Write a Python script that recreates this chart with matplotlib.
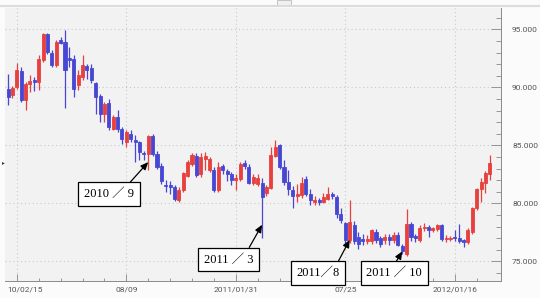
import matplotlib
matplotlib.use('Agg')
import matplotlib.pyplot as plt
import matplotlib.transforms as mtransforms
from matplotlib.ticker import FixedLocator
import numpy as np
import pandas as pd

# ---- data (weekly USD/JPY candles) ----
start_week = '2010-02-01'
opens = [89.9, 89.3, 90.03, 91.38, 88.88, 90.32, 90.6, 90.46, 92.33, 94.63,
         93.0, 91.9, 94.05, 93.9, 92.56, 92.47, 90.17, 90.89, 91.8, 91.7,
         90.37, 89.25, 87.73, 88.68, 86.44, 87.44, 86.44, 85.29, 86.0, 85.5,
         85.29, 84.37, 84.28, 85.8, 84.28, 83.2, 81.6, 81.55, 81.4, 80.26,
         81.12, 82.4, 83.4, 84.05, 82.56, 83.85, 82.84, 82.9, 81.12, 83.2,
         82.8, 82.56, 81.98, 82.13, 83.47, 83.13, 81.75, 81.7, 81.75, 80.9,
         81.35, 84.05, 85.0, 83.13, 81.84, 81.12, 80.6, 80.69, 82.13, 80.83,
         80.12, 80.3, 80.12, 80.4, 80.83, 80.55, 79.12, 78.28, 76.84, 78.1,
         77.1, 76.95, 76.75, 76.72, 77.53, 77.0, 76.81, 77.1, 76.81, 77.24,
         76.35, 75.65, 78.19, 77.2, 76.84, 77.84, 77.99, 77.7, 77.8, 78.1,
         76.93, 76.93, 77.13, 77.0, 76.84, 76.64, 77.56, 79.57, 81.23, 81.73,
         82.5]
highs = [91.18, 90.1, 92.1, 91.75, 90.46, 91.03, 90.9, 92.76, 94.68, 94.7,
         93.2, 94.05, 94.34, 94.91, 93.47, 92.76, 91.47, 92.76, 92.04, 92.0,
         90.45, 89.46, 88.73, 89.03, 87.59, 88.02, 86.58, 86.29, 86.29, 85.86,
         85.4, 84.5, 85.92, 85.95, 84.5, 83.5, 81.98, 81.9, 81.6, 81.4,
         82.7, 83.7, 84.3, 84.34, 84.34, 84.42, 84.0, 83.1, 83.56, 83.4,
         83.0, 82.7, 82.56, 83.56, 83.7, 83.4, 82.56, 82.5, 82.2, 81.6,
         84.83, 85.5, 85.15, 83.7, 82.84, 81.46, 81.7, 82.24, 82.4, 81.2,
         80.6, 80.5, 80.9, 81.4, 81.0, 80.7, 79.57, 78.4, 80.26, 78.5,
         77.53, 77.4, 77.3, 77.82, 77.8, 77.2, 77.4, 77.4, 77.5, 77.5,
         76.5, 79.55, 78.4, 77.4, 78.1, 78.3, 78.1, 78.0, 78.2, 78.2,
         77.3, 77.2, 77.7, 78.19, 76.9, 77.9, 79.7, 81.3, 82.16, 82.8,
         84.16]
lows = [88.45, 89.1, 89.9, 88.73, 88.02, 89.6, 89.7, 89.74, 92.18, 92.9,
        91.75, 91.75, 93.77, 88.19, 91.75, 89.16, 89.74, 90.6, 90.75, 90.4,
        87.73, 87.0, 87.0, 86.29, 86.29, 86.15, 85.15, 84.85, 85.29, 83.56,
        83.7, 83.7, 82.84, 84.1, 83.0, 81.7, 80.97, 80.8, 80.2, 80.1,
        80.97, 82.3, 83.2, 82.3, 82.3, 82.84, 82.7, 80.97, 80.97, 82.56,
        81.9, 81.6, 81.12, 81.9, 83.0, 81.7, 81.6, 81.5, 77.0, 80.6,
        81.2, 83.97, 83.0, 81.55, 80.7, 79.57, 80.1, 80.5, 80.6, 79.83,
        79.9, 79.9, 80.0, 80.3, 80.4, 78.7, 78.28, 76.55, 76.6, 76.53,
        76.1, 76.4, 76.5, 76.5, 76.6, 76.2, 76.5, 76.4, 76.6, 76.3,
        75.6, 75.5, 76.8, 76.7, 76.7, 77.6, 77.13, 77.5, 77.6, 76.8,
        76.7, 76.8, 76.8, 76.6, 76.2, 76.5, 77.4, 79.43, 80.15, 80.86,
        82.0]
closes = [89.2, 89.97, 91.47, 88.88, 90.32, 90.52, 90.45, 92.47, 94.63, 93.04,
          91.9, 93.9, 93.82, 91.47, 92.39, 89.89, 91.03, 91.9, 91.47, 90.6,
          89.16, 87.73, 88.6, 86.58, 87.44, 86.44, 85.58, 86.15, 85.58, 85.29,
          84.43, 84.25, 85.8, 84.28, 83.13, 81.9, 81.47, 81.4, 80.4, 81.12,
          82.6, 83.56, 84.14, 82.47, 83.99, 84.05, 83.85, 81.12, 83.13, 82.84,
          82.5, 82.04, 82.18, 83.42, 83.2, 81.75, 82.27, 82.2, 80.55, 81.4,
          84.14, 84.86, 83.13, 81.84, 81.27, 80.6, 80.83, 81.75, 80.78, 80.26,
          80.3, 80.12, 80.55, 80.83, 80.63, 79.12, 78.55, 76.84, 78.4, 76.8,
          76.53, 76.8, 76.95, 77.67, 76.81, 76.53, 77.1, 76.81, 77.24, 76.4,
          75.9, 78.2, 77.13, 76.98, 77.84, 77.99, 77.7, 77.84, 78.1, 76.93,
          77.05, 77.0, 76.98, 76.8, 76.64, 77.7, 79.57, 81.23, 81.87, 82.6,
          83.45]

tick_dates = ['2010-02-15', '2010-08-09', '2011-01-31', '2011-07-25', '2012-01-16']
tick_labels = ['10/02/15', '08/09', '2011/01/31', '07/25', '2012/01/16']
y_ticks = [75, 80, 85, 90, 95]
y_tick_labels = ['75.000', '80.000', '85.000', '90.000', '95.000']

annot_texts = ['2010 ／ 9', '2011 ／ 3', '2011／8', '2011 ／ 10']
annot_weeks = ['2010-09-13', '2011-03-14', '2011-08-01', '2011-10-24']
annot_prices = [83.56, 78.16, 76.86, 75.86]

# ---- figure ----
W, H = 540, 298
fig = plt.figure(figsize=(W / 100, H / 100), dpi=100, facecolor='#fbfbfb')
ax = fig.add_axes([5 / W, 17 / H, 496 / W, 273 / H])
ax.set_facecolor('#f2f2f2')

weeks = pd.date_range(start_week, periods=len(opens), freq='W-MON')
x = np.arange(len(weeks))
o = np.array(opens); h = np.array(highs); l = np.array(lows); c = np.array(closes)
up = c >= o
RED, BLUE = '#e8403e', '#4747d4'
colors = np.where(up, RED, BLUE)

ax.vlines(x, l, h, colors=colors, linewidth=0.9, zorder=3)
ax.bar(x, np.abs(c - o), bottom=np.minimum(o, c), width=0.7, color=colors,
       edgecolor=colors, linewidth=0.6, zorder=4)

ax.set_xlim(-0.7, -0.7 + 496 / 4.38)
ax.set_ylim(73.31, 96.84)

# grid
gridkw = dict(color='#c9c9c9', linestyle=(0, (1, 2.5)), linewidth=0.8, zorder=1)
for yv in y_ticks:
    ax.axhline(yv, **gridkw)
xt = [weeks.get_loc(pd.Timestamp(d)) for d in tick_dates]
for xv in xt:
    ax.axvline(xv, **gridkw)

# axes styling
ax.yaxis.tick_right()
ax.set_yticks(y_ticks)
ax.set_yticklabels(y_tick_labels)
ax.yaxis.set_minor_locator(FixedLocator(np.arange(74, 97, 1.0)))
ax.tick_params(axis='y', which='major', direction='in', length=7, width=0.6,
               color='#888888', labelsize=6, labelcolor='#555555', pad=8)
ax.tick_params(axis='y', which='minor', direction='in', length=3.5, width=0.6,
               color='#888888')
ax.set_xticks(xt)
ax.set_xticklabels(tick_labels)
ax.xaxis.set_minor_locator(FixedLocator(np.arange(xt[0], len(weeks), 5)))
ax.tick_params(axis='x', which='major', direction='in', length=5, width=0.6,
               color='#888888', labelsize=6, labelcolor='#555555', pad=4)
ax.tick_params(axis='x', which='minor', direction='in', length=2.5, width=0.6,
               color='#888888')
for lab in ax.get_yticklabels() + ax.get_xticklabels():
    lab.set_family('Roboto')
first = ax.get_xticklabels()[0]
first.set_horizontalalignment('left')
first.set_transform(first.get_transform() +
                    mtransforms.ScaledTranslation(-10 / 100, 0, fig.dpi_scale_trans))

for s in ['left', 'top']:
    ax.spines[s].set_visible(False)
ax.spines['right'].set_color('#8a8a8a')
ax.spines['bottom'].set_color('#8a8a8a')
ax.spines['right'].set_linewidth(0.7)
ax.spines['bottom'].set_linewidth(0.7)

# top border line & small handle
fig.add_artist(plt.Line2D([0, 1], [1 - 6 / H, 1 - 6 / H], transform=fig.transFigure,
                          color='#dcdcdc', linewidth=1.5))
fig.add_artist(plt.Rectangle((277 / W, 1 - 6 / H), 14 / W, 6 / H, transform=fig.transFigure,
                             facecolor='#f0f0f0', edgecolor='#bbbbbb', linewidth=0.6))
fig.text(2 / W, 1 - 163 / H, '▸', fontsize=4, color='#333333', ha='left', va='center')

# annotations
box_centers_px = [(109, 194), (228.5, 259.5), (318, 273), (394, 273)]
relpos = [(0.82, 1.0), (0.85, 1.0), (0.9, 1.0), (0.48, 1.0)]
for txt, wk, pr, (cx, cy), rp in zip(annot_texts, annot_weeks, annot_prices,
                                      box_centers_px, relpos):
    xi = weeks.get_loc(pd.Timestamp(wk))
    ax.annotate(txt, xy=(xi, pr), xycoords='data',
                xytext=(cx, H - cy), textcoords='figure pixels',
                ha='center', va='center', fontsize=9,
                family=['Liberation Serif', 'Noto Sans CJK JP'], color='black',
                bbox=dict(boxstyle='square,pad=0.45', facecolor='white',
                          edgecolor='black', linewidth=0.9),
                arrowprops=dict(arrowstyle='-|>,head_length=0.5,head_width=0.22',
                                color='black', linewidth=0.9, shrinkA=0, shrinkB=0,
                                relpos=rp),
                zorder=10, annotation_clip=False)

fig.savefig('out.png', dpi=100, facecolor=fig.get_facecolor())
